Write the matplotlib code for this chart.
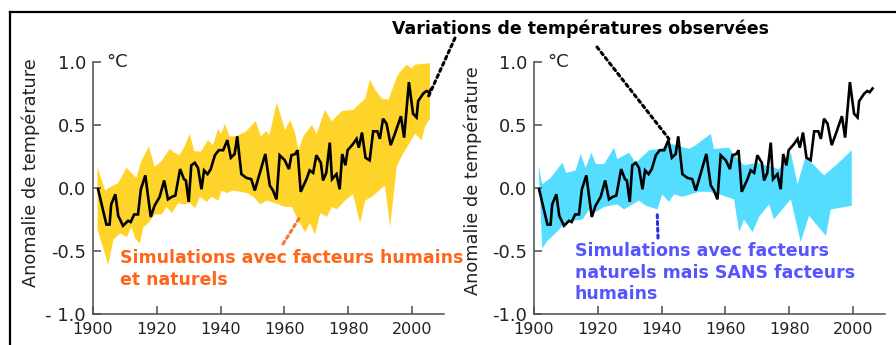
import matplotlib
matplotlib.use("Agg")
import matplotlib.pyplot as plt
from matplotlib.lines import Line2D

obs_years = [1901.6, 1904.2, 1905.2, 1905.7, 1907.0, 1907.9, 1909.4, 1911.0, 1911.8, 1912.9,
             1914.1, 1915.0, 1916.4, 1918.1, 1919.3, 1920.9, 1922.3, 1923.5, 1924.7, 1925.8,
             1927.3, 1928.5, 1929.1, 1930.0, 1930.8, 1931.9, 1932.9, 1934.0, 1934.8, 1935.9,
             1936.9, 1938.2, 1939.4, 1940.8, 1942.1, 1943.2, 1944.4, 1945.2, 1946.5, 1948.1,
             1949.6, 1950.7, 1954.0, 1955.4, 1956.4, 1957.5, 1958.5, 1960.1, 1961.4, 1962.2,
             1963.4, 1964.1, 1965.1, 1966.9, 1967.9, 1969.0, 1970.0, 1971.4, 1972.1, 1973.1,
             1974.2, 1974.9, 1976.3, 1977.3, 1978.1, 1979.1, 1979.8, 1981.5, 1982.6, 1983.3,
             1984.3, 1985.4, 1986.7, 1987.8, 1989.1, 1989.9, 1990.9, 1992.0, 1993.3, 1994.6,
             1996.5, 1997.5, 1999.0, 2000.3, 2001.4, 2001.9, 2003.5, 2004.5, 2005.2, 2006.1]
obs_vals = [-0.01, -0.29, -0.29, -0.13, -0.05, -0.22, -0.30, -0.26, -0.27, -0.21,
            -0.21, -0.01, 0.10, -0.23, -0.14, -0.07, 0.06, -0.09, -0.07, -0.06,
            0.15, 0.07, 0.06, -0.11, 0.18, 0.20, 0.16, -0.01, 0.14, 0.11,
            0.15, 0.26, 0.30, 0.30, 0.38, 0.24, 0.27, 0.41, 0.11, 0.08,
            0.07, -0.02, 0.27, 0.02, -0.02, -0.09, 0.26, 0.22, 0.15, 0.26,
            0.27, 0.30, -0.03, 0.07, 0.14, 0.12, 0.26, 0.20, 0.06, 0.12,
            0.36, 0.07, 0.11, -0.01, 0.27, 0.18, 0.30, 0.35, 0.39, 0.32,
            0.44, 0.24, 0.22, 0.45, 0.45, 0.39, 0.55, 0.51, 0.34, 0.43,
            0.57, 0.40, 0.84, 0.59, 0.56, 0.69, 0.75, 0.77, 0.76, 0.79]

# simulations with human + natural factors (yellow band edges)
hum_up_years = [1901.4, 1903.8, 1905.6, 1907.9, 1910.5, 1912.0, 1913.6, 1915.1, 1917.5, 1919.3,
                1921.4, 1924.0, 1925.5, 1927.1, 1928.7, 1930.3, 1931.8, 1933.9, 1936.0, 1937.6,
                1939.2, 1940.2, 1941.3, 1942.8, 1944.9, 1948.0, 1951.0, 1952.6, 1954.2, 1955.3,
                1957.6, 1960.2, 1961.8, 1963.3, 1964.4, 1965.9, 1968.6, 1970.1, 1972.7, 1974.8,
                1978.0, 1981.6, 1985.3, 1986.8, 1988.4, 1990.5, 1992.6, 1995.2, 1996.2, 1998.3,
                1999.9, 2000.9, 2005.6]
hum_up = [0.17, -0.02, 0.01, 0.04, 0.16, 0.12, 0.08, 0.21, 0.33, 0.17,
          0.21, 0.31, 0.28, 0.26, 0.33, 0.43, 0.29, 0.29, 0.38, 0.34,
          0.47, 0.43, 0.51, 0.41, 0.41, 0.45, 0.53, 0.41, 0.45, 0.42,
          0.68, 0.46, 0.54, 0.44, 0.30, 0.41, 0.50, 0.43, 0.62, 0.53,
          0.61, 0.62, 0.71, 0.86, 0.78, 0.71, 0.70, 0.88, 0.92, 0.98,
          0.95, 0.98, 0.99]
hum_lo_years = [1901.4, 1904.8, 1906.4, 1908.5, 1910.6, 1912.1, 1913.2, 1914.7, 1915.8, 1917.3,
                1919.4, 1921.5, 1923.1, 1924.7, 1926.7, 1928.3, 1930.4, 1932.0, 1933.5, 1935.6,
                1937.2, 1939.3, 1940.3, 1941.9, 1944.0, 1946.1, 1948.2, 1950.3, 1952.4, 1954.5,
                1957.0, 1960.2, 1962.3, 1964.4, 1966.5, 1968.0, 1969.6, 1971.2, 1973.3, 1974.8,
                1976.4, 1979.0, 1981.5, 1983.7, 1985.3, 1987.4, 1991.5, 1993.1, 1995.2, 1996.7,
                2000.9, 2003.0, 2004.1, 2005.6]
hum_lo = [-0.33, -0.61, -0.41, -0.36, -0.39, -0.31, -0.40, -0.44, -0.31, -0.28,
          -0.21, -0.21, -0.15, -0.20, -0.12, -0.13, -0.12, -0.16, -0.07, -0.11,
          -0.07, -0.10, -0.02, -0.04, -0.02, -0.03, -0.04, -0.07, -0.13, -0.10,
          -0.12, -0.15, -0.15, -0.26, -0.35, -0.28, -0.37, -0.20, -0.23, -0.15,
          -0.17, -0.10, -0.05, -0.28, -0.10, -0.07, 0.02, -0.31, 0.17, 0.25,
          0.43, 0.38, 0.49, 0.55]

# simulations with natural factors only (cyan band edges)
nat_up_years = [1901.4, 1902.6, 1905.2, 1908.9, 1910.1, 1913.1, 1914.6, 1916.2, 1918.0, 1919.4,
                1922.0, 1925.1, 1926.1, 1929.8, 1931.9, 1936.1, 1939.7, 1943.0, 1948.6, 1950.7,
                1955.4, 1956.4, 1961.1, 1962.2, 1965.8, 1970.0, 1976.8, 1980.5, 1982.6, 1985.0,
                1987.8, 1990.9, 1994.6, 1996.7, 1999.6]
nat_up = [0.18, 0.03, 0.08, 0.20, 0.12, 0.14, 0.27, 0.16, 0.28, 0.19,
          0.19, 0.32, 0.23, 0.28, 0.20, 0.30, 0.31, 0.35, 0.31, 0.34,
          0.43, 0.31, 0.32, 0.28, 0.18, 0.20, 0.15, 0.28, 0.03, 0.24,
          0.18, 0.10, 0.18, 0.23, 0.30]
nat_lo_years = [1902.6, 1904.2, 1906.3, 1907.9, 1909.9, 1912.0, 1915.2, 1917.3, 1919.4, 1922.0,
                1926.1, 1928.2, 1932.9, 1935.0, 1938.7, 1940.2, 1942.3, 1943.9, 1946.5, 1951.7,
                1954.9, 1958.0, 1962.7, 1964.3, 1965.8, 1968.5, 1970.5, 1973.7, 1975.2, 1980.5,
                1983.6, 1986.2, 1991.5, 1993.0, 1997.7, 1999.6]
nat_lo = [-0.48, -0.42, -0.37, -0.33, -0.27, -0.26, -0.25, -0.17, -0.19, -0.15,
          -0.13, -0.17, -0.10, -0.14, -0.17, -0.05, -0.11, -0.05, -0.07, -0.03,
          -0.03, -0.05, -0.09, -0.35, -0.25, -0.35, -0.23, -0.13, -0.25, -0.09,
          -0.43, -0.22, -0.38, -0.17, -0.15, -0.14]

yticks = [-1.0, -0.5, 0.0, 0.5, 1.0]
ylabels_left = ['- 1.0', '-0.5', '0.0', '0.5', '1.0']
ylabels_right = ['-1.0', '-0.5', '0.0', '0.5', '1.0']
xticks = [1900, 1920, 1940, 1960, 1980, 2000]

YELLOW = '#ffd42a'
CYAN = '#55ddff'
ORANGE = '#ff6619'
BLUE = '#5555ff'
GREY = '#4d4d4d'

W, H = 896, 345
fig = plt.figure(figsize=(W / 100, H / 100), dpi=100)

def make_axes(left_px, band_x_up, band_up, band_x_lo, band_lo, color, ylabs, lab_x, lab_y):
    ax = fig.add_axes([left_px / W, 31 / H, 351 / W, 252 / H])
    poly_x = list(band_x_up) + list(band_x_lo[::-1])
    poly_y = list(band_up) + list(band_lo[::-1])
    ax.fill(poly_x, poly_y, color=color, lw=0, zorder=1)
    ax.plot(obs_years, obs_vals, color='black', lw=1.9, zorder=3, solid_joinstyle='miter')
    ax.set_xlim(1900, 2010)
    ax.set_ylim(-1, 1)
    for s in ['top', 'right']:
        ax.spines[s].set_visible(False)
    for s in ['left', 'bottom']:
        ax.spines[s].set_color(GREY)
        ax.spines[s].set_linewidth(1.1)
    ax.set_xticks(xticks)
    ax.set_yticks(yticks)
    ax.set_yticklabels(ylabs)
    ax.tick_params(axis='both', direction='in', length=6, width=1.1, color=GREY, labelcolor='#222222')
    ax.tick_params(axis='x', labelsize=11.5, pad=5.5)
    ax.tick_params(axis='y', labelsize=13, pad=5)
    ax.set_ylabel('Anomalie de température', fontsize=12.8, color='#222222')
    ax.yaxis.set_label_coords(lab_x, lab_y)
    ax.text(0.038, 1.0, '°C', transform=ax.transAxes, fontsize=13, va='center', ha='left', color='#222222')
    ax.patch.set_alpha(0)
    return ax

ax1 = make_axes(93, hum_up_years, hum_up, hum_lo_years, hum_lo, YELLOW, ylabels_left, -0.151, 0.56)
ax2 = make_axes(534, nat_up_years, nat_up, nat_lo_years, nat_lo, CYAN, ylabels_right, -0.148, 0.528)

# frame
fig.add_artist(Line2D([10 / W, 10 / W], [0, 1 - 12 / H], transform=fig.transFigure, color='black', lw=1.6))
fig.add_artist(Line2D([10 / W, 895 / W], [1 - 12 / H, 1 - 12 / H], transform=fig.transFigure, color='black', lw=1.6))

# title and leaders
fig.text(580 / W, 1 - 29 / H, 'Variations de températures observées', fontsize=12.5, fontweight='bold',
         ha='center', va='center', color='black')
dots = dict(arrowstyle='-', linestyle=(0, (1, 1.2)), lw=2.2, shrinkA=0, shrinkB=0)
ax1.annotate('', xy=(2005.0, 0.72), xytext=(455 / W, 1 - 38 / H), textcoords='figure fraction',
             arrowprops=dict(dots, color='black'), zorder=5)
ax2.annotate('', xy=(1942.3, 0.39), xytext=(597 / W, 1 - 47 / H), textcoords='figure fraction',
             arrowprops=dict(dots, color='black'), zorder=5)
ax1.annotate('', xy=(1964.6, -0.24), xytext=(283 / W, 1 - 244 / H), textcoords='figure fraction',
             arrowprops=dict(dots, color='#f07a30'), zorder=5)
ax2.annotate('', xy=(1938.6, -0.19), xytext=(658 / W, 1 - 238 / H), textcoords='figure fraction',
             arrowprops=dict(dots, color='#2b2bee'), zorder=5)

fig.text(120 / W, 1 - 269 / H, 'Simulations avec facteurs humains\net naturels', fontsize=12.5,
         fontweight='bold', color=ORANGE, ha='left', va='center', linespacing=1.25)
fig.text(575 / W, 1 - 272.5 / H, 'Simulations avec facteurs\nnaturels mais SANS facteurs\nhumains',
         fontsize=12.5, fontweight='bold', color=BLUE, ha='left', va='center', linespacing=1.25)

fig.savefig('out.png', dpi=100)
